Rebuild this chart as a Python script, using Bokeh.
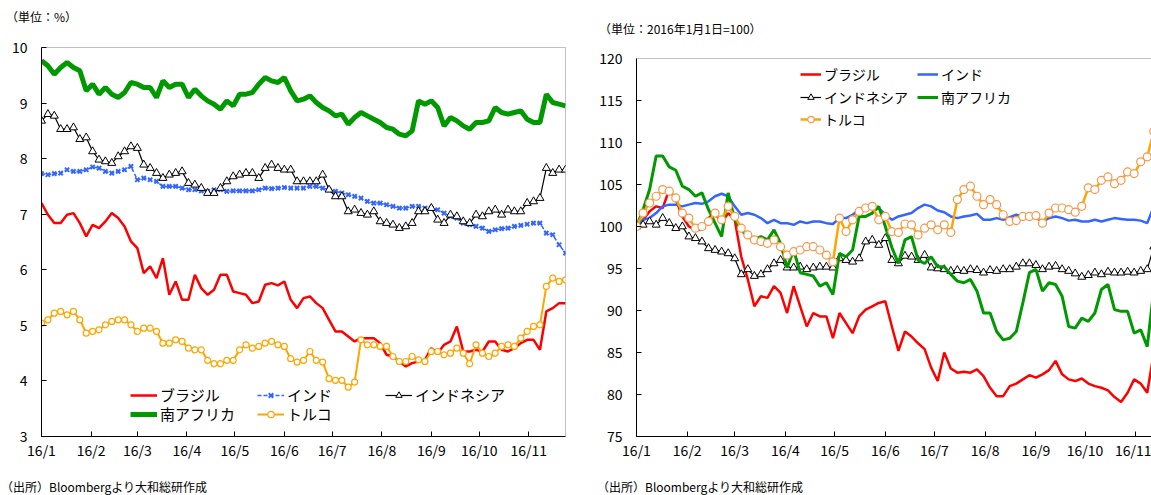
import pandas as pd
from bokeh.plotting import figure
from bokeh.models import (Range1d, FixedTicker, Legend, LegendItem, Span, Div)
from bokeh.layouts import row, column
from bokeh.embed import file_html
from bokeh.resources import INLINE

FONT = "Noto Sans CJK JP"

# ---- 10-year government bond yields (%), sampled every 4 days from 2016-01-01 ----
brazil_yield = [
    7.20, 6.99, 6.84, 6.84, 6.99, 7.02, 6.84, 6.60, 6.81, 6.75, 6.87, 7.02, 6.93, 6.78,
    6.51, 6.39, 5.94, 6.06, 5.85, 6.21, 5.55, 5.79, 5.46, 5.46, 5.91, 5.67, 5.55, 5.64,
    5.91, 5.91, 5.61, 5.58, 5.55, 5.40, 5.43, 5.73, 5.76, 5.72, 5.79, 5.46, 5.31, 5.49,
    5.52, 5.40, 5.31, 5.10, 4.89, 4.89, 4.80, 4.71, 4.77, 4.77, 4.77, 4.68, 4.47, 4.44,
    4.35, 4.26, 4.32, 4.35, 4.38, 4.59, 4.50, 4.65, 4.71, 4.98, 4.53, 4.53, 4.56, 4.53,
    4.71, 4.71, 4.56, 4.53, 4.59, 4.68, 4.74, 4.74, 4.56, 5.25, 5.31, 5.40, 5.40]
india_yield = [
    7.73, 7.71, 7.73, 7.74, 7.80, 7.77, 7.77, 7.80, 7.85, 7.83, 7.77, 7.74, 7.77, 7.80,
    7.86, 7.62, 7.65, 7.62, 7.59, 7.50, 7.50, 7.50, 7.47, 7.44, 7.44, 7.42, 7.41, 7.44,
    7.44, 7.41, 7.42, 7.42, 7.42, 7.42, 7.44, 7.47, 7.46, 7.47, 7.48, 7.47, 7.47, 7.47,
    7.50, 7.50, 7.47, 7.44, 7.41, 7.38, 7.35, 7.32, 7.29, 7.23, 7.20, 7.20, 7.17, 7.14,
    7.11, 7.11, 7.14, 7.14, 7.11, 7.11, 7.08, 7.02, 6.96, 6.93, 6.84, 6.81, 6.78, 6.75,
    6.69, 6.72, 6.74, 6.75, 6.78, 6.80, 6.82, 6.84, 6.84, 6.66, 6.63, 6.45, 6.30]
indonesia_yield = [
    8.68, 8.80, 8.77, 8.53, 8.53, 8.56, 8.35, 8.38, 8.13, 7.98, 7.95, 7.92, 8.04, 8.13,
    8.22, 8.19, 7.89, 7.83, 7.74, 7.65, 7.71, 7.74, 7.77, 7.56, 7.53, 7.47, 7.38, 7.38,
    7.47, 7.59, 7.68, 7.71, 7.74, 7.74, 7.65, 7.83, 7.89, 7.83, 7.80, 7.80, 7.59, 7.59,
    7.59, 7.59, 7.71, 7.44, 7.32, 7.32, 7.05, 7.08, 7.02, 6.99, 7.05, 6.87, 6.84, 6.81,
    6.75, 6.78, 6.84, 7.05, 7.05, 7.11, 6.90, 6.84, 6.99, 6.96, 6.87, 6.84, 6.99, 6.96,
    7.05, 7.08, 6.99, 7.08, 7.05, 7.05, 7.20, 7.23, 7.29, 7.83, 7.74, 7.80, 7.80]
south_africa_yield = [
    9.76, 9.67, 9.52, 9.64, 9.73, 9.64, 9.58, 9.22, 9.34, 9.16, 9.28, 9.16, 9.10, 9.19,
    9.37, 9.34, 9.28, 9.28, 9.10, 9.40, 9.28, 9.34, 9.34, 9.10, 9.25, 9.13, 9.04, 8.98,
    8.89, 9.04, 8.95, 9.16, 9.16, 9.19, 9.34, 9.46, 9.40, 9.37, 9.46, 9.22, 9.04, 9.07,
    9.13, 9.01, 8.92, 8.86, 8.77, 8.80, 8.62, 8.74, 8.83, 8.77, 8.71, 8.65, 8.56, 8.53,
    8.44, 8.41, 8.50, 9.04, 8.98, 9.04, 8.92, 8.59, 8.74, 8.68, 8.59, 8.53, 8.65, 8.65,
    8.68, 8.92, 8.83, 8.80, 8.83, 8.86, 8.71, 8.65, 8.65, 9.16, 9.01, 8.98, 8.95]
turkey_yield = [
    5.04, 5.10, 5.22, 5.25, 5.19, 5.25, 5.10, 4.86, 4.89, 4.92, 5.01, 5.07, 5.10, 5.10,
    5.01, 4.89, 4.95, 4.95, 4.89, 4.68, 4.68, 4.74, 4.71, 4.59, 4.56, 4.56, 4.37, 4.31,
    4.31, 4.37, 4.37, 4.56, 4.65, 4.59, 4.62, 4.68, 4.71, 4.65, 4.62, 4.40, 4.34, 4.37,
    4.53, 4.37, 4.34, 4.04, 4.01, 4.01, 3.89, 3.98, 4.74, 4.65, 4.65, 4.62, 4.62, 4.44,
    4.35, 4.35, 4.44, 4.38, 4.35, 4.53, 4.53, 4.47, 4.50, 4.59, 4.50, 4.31, 4.65, 4.50,
    4.44, 4.50, 4.62, 4.65, 4.62, 4.77, 4.89, 4.98, 5.01, 5.70, 5.85, 5.79, 5.82]

# ---- Exchange rates vs USD, 2016-01-01 = 100, sampled every 4 days ----
brazil_fx = [
    100, 100.8, 101.8, 102.4, 102.2, 104.4, 103.2, 101.2, 100, 99.6, 99.6, 101, 101.6,
    100.4, 101.6, 100.8, 96.4, 93.7, 90.5, 91.7, 91.5, 92.9, 92.1, 89.7, 92.9, 90.5,
    88.1, 89.7, 89.3, 89.3, 86.7, 89.7, 88.5, 87.3, 89.3, 90.1, 90.5, 90.9, 91.1, 88.1,
    85.2, 87.5, 86.9, 86.1, 85.4, 83.2, 81.6, 85.0, 83.1, 82.6, 82.7, 82.6, 83.0, 82.2,
    80.8, 79.8, 79.8, 81.0, 81.3, 81.8, 82.3, 82.0, 82.4, 82.9, 84.0, 82.4, 81.8, 81.6,
    81.9, 81.3, 81.0, 80.8, 80.5, 79.7, 79.1, 80.2, 81.8, 81.3, 80.2, 85.0]
india_fx = [
    100, 100.8, 101, 101.6, 102.4, 102.6, 102.6, 102.4, 102.6, 102.8, 102.7, 103, 103.6,
    103.9, 103.6, 102.4, 101.4, 101.6, 101.4, 101, 100.4, 100.8, 100.4, 100.4, 100.2,
    100.6, 100.4, 100.6, 100.6, 100.4, 100.3, 101, 101, 101.4, 102, 102.4, 102.2, 102.2,
    101.4, 100.8,
    101.2, 101.4, 101.6, 102.2, 102.6, 102.4, 101.9, 101.7, 101.2, 101.0, 101.2, 101.3,
    101.5, 100.8, 100.8, 101.0, 100.8, 101.1, 101.4, 101.2, 101.2, 101.0, 100.6, 101.0,
    101.2, 101.0, 100.7, 100.8, 100.6, 100.6, 100.8, 100.6, 100.8, 101.0, 100.9, 100.8,
    100.8, 100.7, 100.4, 102.4]
indonesia_fx = [
    100, 100.2, 100.6, 100.2, 101, 100.4, 99.8, 100, 98.8, 98.6, 98.2, 97.4, 97.2, 97.0,
    96.8, 96.2, 94.3, 94.9, 94.1, 94.3, 94.9, 95.6, 96.0, 95.1, 95.1, 95.2, 94.9, 95.1,
    95.2, 95.2, 95.1, 96.2, 96.0, 95.8, 96.2, 98.2, 98.4, 97.8, 98.6, 96.0,
    95.6, 96.5, 96.4, 96.0, 96.6, 95.1, 95.0, 94.9, 94.7, 94.8, 94.7, 94.9, 94.8, 94.5,
    94.8, 94.7, 94.9, 94.9, 95.2, 95.6, 95.6, 95.4, 94.9, 95.2, 95.3, 94.9, 94.7, 94.4,
    94.0, 94.2, 94.5, 94.3, 94.6, 94.5, 94.5, 94.6, 94.5, 94.7, 94.9, 97.6]
south_africa_fx = [
    100, 102, 104.4, 108.4, 108.4, 107.1, 106.7, 104.8, 104.4, 103.6, 104.0, 102, 100.4,
    98.8, 104, 100.8, 99.6, 98.8, 98.4, 98.8, 98.4, 99.6, 98.0, 95.1, 97.2, 94.5, 94.3,
    94.1, 92.9, 93.3, 91.9, 96.8, 96.4, 97.2, 101.2, 101.2, 101.6, 102.4, 100.0, 97.5,
    95.6, 98.4, 98.8, 96.0, 95.6, 96.4, 95.2, 95.2, 94.3, 93.5, 93.3, 93.7, 92.3, 89.7,
    89.7, 87.5, 86.5, 86.7, 87.5, 90.9, 94.5, 94.9, 92.3, 93.3, 93.1, 91.7, 88.1, 87.9,
    89.1, 88.7, 89.7, 92.5, 93.1, 90.1, 89.9, 89.9, 87.3, 87.7, 85.7, 92.5]
turkey_fx = [
    100, 101.6, 102.8, 103.6, 104.4, 104.2, 103.4, 101.6, 101, 99.8, 100, 100.6, 101.6,
    100.8, 102.4, 101.2, 99.8, 99.0, 98.4, 98.2, 98.0, 98.4, 97.6, 96.6, 97.0, 97.2,
    97.6, 97.6, 97.2, 96.6, 95.8, 101.0, 99.4, 100.8, 101.8, 102.2, 102.4, 100.8, 101.2,
    99.4,
    99.3, 100.3, 100.2, 99.0, 99.8, 100.2, 99.6, 100.2, 99.3, 103.2, 104.4, 104.8, 103.6,
    102.6, 103.2, 102.6, 101.4, 100.6, 100.7, 101.2, 101.2, 101.3, 100.4, 101.6, 102.2,
    102.2, 102.0, 101.7, 102.4, 104.6, 104.4, 105.5, 105.9, 105.1, 105.5, 106.5, 106.3,
    107.7, 108.3, 111.3]

month_labels = ["16/1", "16/2", "16/3", "16/4", "16/5", "16/6",
                "16/7", "16/8", "16/9", "16/10", "16/11"]

start = pd.Timestamp("2016-01-01")
yield_dates = pd.date_range(start, periods=len(brazil_yield), freq="4D")
fx_dates = pd.date_range(start, periods=len(brazil_fx), freq="4D")
month_starts = pd.date_range(start, periods=len(month_labels), freq="MS")
month_ms = [float(ts.value // 10**6) for ts in month_starts]

RED, BLUE, BLACK, GREEN, ORANGE = "#FF0000", "#3366FF", "#000000", "#009900", "#FFA500"

HEAD_H, FOOT_H = 36, 24
FIG_H = 495 - HEAD_H - FOOT_H
TOP, BOTTOM = 47 - HEAD_H, 35


def style(p, y_ticks):
    p.xgrid.visible = False
    p.ygrid.visible = False
    p.background_fill_color = "white"
    p.border_fill_color = "white"
    for ax in (p.xaxis[0], p.yaxis[0]):
        ax.axis_line_color = "black"
        ax.axis_line_width = 1
        ax.major_tick_in = 5
        ax.major_tick_out = 0
        ax.major_tick_line_color = "black"
        ax.minor_tick_line_color = None
        ax.major_label_text_font = FONT
        ax.major_label_text_font_size = "14px"
        ax.major_label_text_color = "black"
    p.xaxis[0].ticker = FixedTicker(ticks=month_ms)
    p.xaxis[0].major_label_overrides = dict(zip(month_ms, month_labels))
    p.xaxis[0].major_label_standoff = 3
    p.yaxis[0].ticker = FixedTicker(ticks=y_ticks)
    p.yaxis[0].major_label_standoff = 14


def add_key(p, label, renderers, x, y, size, glyph_w):
    leg = Legend(items=[LegendItem(label=label, renderers=renderers)],
                 location=(x, y), padding=0, margin=0, spacing=0,
                 glyph_width=glyph_w, glyph_height=16, label_height=16,
                 label_standoff=3, border_line_color=None,
                 background_fill_alpha=0, label_text_font=FONT,
                 label_text_font_size=size, label_text_color="black")
    p.add_layout(leg)


def text_block(text, width, height, pad_left, pad_top):
    html = (f'<div style="padding:{pad_top}px 0 0 {pad_left}px; '
            f'font-family:\'{FONT}\'; font-size:12px; line-height:14px; '
            f'color:#000; white-space:nowrap;">{text}</div>')
    return Div(text=html, width=width, height=height, margin=0)


# ---------------- left: bond yields ----------------
left = figure(width=575, height=FIG_H, x_axis_type="datetime",
              x_range=Range1d(start, start + pd.Timedelta(days=328)),
              y_range=Range1d(3, 10), output_backend="svg", toolbar_location=None,
              min_border_left=41, min_border_right=10, min_border_top=TOP,
              min_border_bottom=BOTTOM, outline_line_color="#C0C0C0")
style(left, list(range(3, 11)))

r_br = left.line(yield_dates, brazil_yield, color=RED, line_width=2.5)
r_in = left.line(yield_dates, india_yield, color=BLUE, line_width=1.5, line_dash="4 2")
s_in = left.scatter(yield_dates, india_yield, marker="x", size=6, line_color=BLUE,
                    line_width=2)
r_id = left.line(yield_dates, indonesia_yield, color=BLACK, line_width=1.2)
s_id = left.scatter(yield_dates, indonesia_yield, marker="triangle", size=8,
                    fill_color="white", line_color=BLACK, line_width=1)
r_sa = left.line(yield_dates, south_africa_yield, color=GREEN, line_width=5)
r_tr = left.line(yield_dates, turkey_yield, color=ORANGE, line_width=2)
s_tr = left.scatter(yield_dates, turkey_yield, marker="circle", size=6,
                    fill_color="white", line_color=ORANGE, line_width=1.2)

add_key(left, "ブラジル", [r_br], 89, 31, "15px", 27)
add_key(left, "南アフリカ", [r_sa], 89, 12, "15px", 27)
add_key(left, "インド", [r_in, s_in], 216, 31, "15px", 27)
add_key(left, "トルコ", [r_tr, s_tr], 216, 12, "15px", 27)
add_key(left, "インドネシア", [r_id, s_id], 344, 31, "15px", 27)

# ---------------- right: currencies ----------------
# the frame reaches slightly above 120 so both panels share one top border
right = figure(width=576, height=FIG_H, x_axis_type="datetime",
               x_range=Range1d(start, start + pd.Timedelta(days=314.6)),
               y_range=Range1d(75, 121.31), output_backend="svg",
               toolbar_location=None, min_border_left=61, min_border_right=0,
               min_border_top=TOP, min_border_bottom=BOTTOM, outline_line_color=None)
style(right, list(range(75, 121, 5)))
right.yaxis[0].bounds = (75, 120)
right.add_layout(Span(location=120, dimension="width", line_color="#C0C0C0",
                      line_width=1))

q_br = right.line(fx_dates, brazil_fx, color=RED, line_width=2.5)
q_in = right.line(fx_dates, india_fx, color=BLUE, line_width=2.5)
q_id = right.line(fx_dates, indonesia_fx, color=BLACK, line_width=1.2)
t_id = right.scatter(fx_dates, indonesia_fx, marker="triangle", size=8,
                     fill_color="white", line_color=BLACK, line_width=1)
q_sa = right.line(fx_dates, south_africa_fx, color=GREEN, line_width=3)
q_tr = right.line(fx_dates, turkey_fx, color=ORANGE, line_width=2.5)
t_tr = right.scatter(fx_dates, turkey_fx, marker="circle", size=8,
                     fill_color="white", line_color="#F79646", line_width=1.2)

add_key(right, "ブラジル", [q_br], 164, 352, "14px", 21)
add_key(right, "インドネシア", [q_id, t_id], 164, 329, "14px", 21)
add_key(right, "トルコ", [q_tr, t_tr], 164, 307, "14px", 21)
add_key(right, "インド", [q_in], 281, 352, "14px", 21)
add_key(right, "南アフリカ", [q_sa], 281, 329, "14px", 21)

header = row(text_block("（単位：%）", 575, HEAD_H, 6, 10),
             text_block("（単位：2016年1月1日=100）", 576, HEAD_H, 24, 22))
footer = row(text_block("（出所）Bloombergより大和総研作成", 575, FOOT_H, 1, 9),
             text_block("（出所）Bloombergより大和総研作成", 576, FOOT_H, 22, 9))

layout = column(header, row(left, right), footer)
open("out.html", "w").write(file_html(layout, INLINE))
